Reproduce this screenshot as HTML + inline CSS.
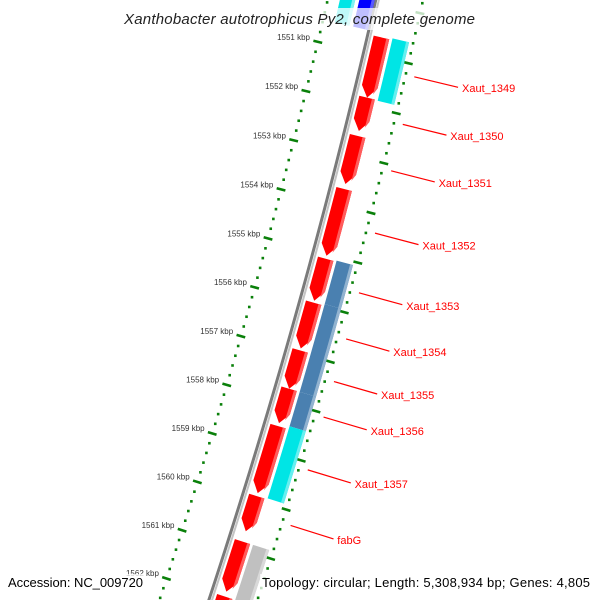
<!DOCTYPE html>
<html><head><meta charset="utf-8"><style>
html,body{margin:0;padding:0;background:#fff;width:600px;height:600px;overflow:hidden;}
svg{display:block;font-family:"Liberation Sans",sans-serif;overflow:hidden;}
</style></head><body>
<svg id="map" width="600" height="600" viewBox="0 0 600 600" xmlns="http://www.w3.org/2000/svg">
<rect width="600" height="600" fill="#fff"/>
<g id="rings"></g>
<g id="feats"></g>
<g id="labels"></g>
<rect x="120" y="8" width="360" height="22" fill="#fff" fill-opacity="0.75"/>
<text x="124" y="24" font-size="15" font-style="italic" fill="#222" textLength="351">Xanthobacter autotrophicus Py2, complete genome</text>
<rect x="6" y="574" width="140" height="19" fill="#fff" fill-opacity="0.75"/>
<rect x="260" y="574" width="332" height="19" fill="#fff" fill-opacity="0.75"/>
<text x="8" y="587" font-size="13" fill="#000" textLength="135">Accession: NC_009720</text>
<text x="262" y="587" font-size="13" fill="#000" textLength="328">Topology: circular; Length: 5,308,934 bp; Genes: 4,805</text>
</svg>
<script>
// data (kbp)
const fwdStarts = [1550.63,1551.84,1552.61,1553.68,1555.09,1555.98,1556.95,1557.73,1558.49,1559.92,1560.85,1561.98];
const fwdEnds   = [1551.84,1552.51,1553.58,1555.03,1555.94,1556.91,1557.73,1558.43,1559.86,1560.64,1561.88,1563.00];
const outerStarts = [1550.60,1555.07,1555.95,1557.73,1558.43,1560.85];
const outerEnds   = [1551.85,1555.95,1557.73,1558.43,1559.90,1562.00];
const outerColors = ['#00e5e5','#4a80b0','#4a80b0','#4a80b0','#00e5e5','#c0c0c0'];
const revStarts = [1549.90];
const revEnds = [1550.55];
const labelNames = ['Xaut_1349','Xaut_1350','Xaut_1351','Xaut_1352','Xaut_1353','Xaut_1354','Xaut_1355','Xaut_1356','Xaut_1357','fabG'];
const labelPos = [1551.23,1552.18,1553.11,1554.36,1555.56,1556.49,1557.35,1558.07,1559.14,1560.27];
const tickKbp = [1550,1551,1552,1553,1554,1555,1556,1557,1558,1559,1560,1561,1562,1563];

const NS='http://www.w3.org/2000/svg';
const CX=-6093, CY=-1476;
function ang(k){return (13.32+(k-1551)*0.441)*Math.PI/180;}
function P(k,r){const t=ang(k);return [CX+r*Math.cos(t),CY+r*Math.sin(t)];}
function mk(tag,attrs,parent){const e=document.createElementNS(NS,tag);for(const a in attrs)e.setAttribute(a,attrs[a]);parent.appendChild(e);return e;}
function arcPts(k0,k1,r,n){const p=[];for(let i=0;i<=n;i++){p.push(P(k0+(k1-k0)*i/n,r));}return p;}
function ptsStr(p){return p.map(q=>q[0].toFixed(2)+','+q[1].toFixed(2)).join(' ');}

const rings=document.getElementById('rings');
const bb1=mk('polyline',{points:ptsStr(arcPts(1549.3,1563.2,6635,60)),fill:'none',stroke:'#7a7a7a','stroke-width':3},rings);


const bb2=mk('polyline',{points:ptsStr(arcPts(1549.3,1563.2,6638,60)),fill:'none',stroke:'#c4c4c4','stroke-width':2},rings);



[[6588,'inner'],[6681,'outer']].forEach(([r,nm])=>{
  for(let k=1549.0;k<=1563.2;k+=0.2){
    const kk=Math.round(k*10)/10;
    const isMajor=Math.abs(kk-Math.round(kk))<1e-6;
    if(isMajor) continue;
    const p=P(kk,r);
    const d=mk('rect',{x:p[0]-1.2,y:p[1]-1.2,width:2.6,height:2.6,fill:'#0a800a'},rings);
    
    
  }
  tickKbp.forEach(k=>{
    const a=P(k,r-4.5),b=P(k,r+4.5);
    const t=mk('line',{x1:a[0],y1:a[1],x2:b[0],y2:b[1],stroke:'#0a800a','stroke-width':2.6},rings);
    
    
  });
});
tickKbp.forEach(k=>{
  const p=P(k,6580);
  const t=mk('text',{x:p[0].toFixed(1),y:(p[1]).toFixed(1),'font-size':8,'text-anchor':'end',fill:'#333'},rings);
  t.textContent=k+' kbp';
  
  
});

const feats=document.getElementById('feats');
function arrow(k0,k1,r0,r1,color,light,name){
  const tip=Math.min(0.22,(k1-k0)*0.4);
  const kb=k1-tip;
  const outer=arcPts(k0,kb,r1,10), inner=arcPts(kb,k0,r0,10);
  const pts=[...outer,P(k1,(r0+r1)/2),...inner];
  const g=mk('polygon',{points:ptsStr(pts),fill:color},feats);
  
  
  const hl=[...arcPts(k0,kb,r1,10),P(k1-tip*0.4,r1-3),...arcPts(kb,k0,r1-3,10)];
  const h=mk('polygon',{points:ptsStr(hl),fill:light},feats);
  
  
}
function box(k0,k1,r0,r1,color,light,name){
  const pts=[...arcPts(k0,k1,r1,10),...arcPts(k1,k0,r0,10)];
  const g=mk('polygon',{points:ptsStr(pts),fill:color},feats);
  
  
  const hl=[...arcPts(k0,k1,r1,10),...arcPts(k1,k0,r1-3,10)];
  const h=mk('polygon',{points:ptsStr(hl),fill:light},feats);
  
  
}
function lighten(c){const n=parseInt(c.slice(1),16);let r=n>>16,g=(n>>8)&255,b=n&255;r=Math.round(r+(255-r)*0.4);g=Math.round(g+(255-g)*0.4);b=Math.round(b+(255-b)*0.4);return 'rgb('+r+','+g+','+b+')';}
for(let i=0;i<fwdStarts.length;i++) arrow(fwdStarts[i],fwdEnds[i],6641,6657,'#ff0000','#ff5c5c','forward-gene');
for(let i=0;i<outerStarts.length;i++) box(outerStarts[i],outerEnds[i],6660,6677,outerColors[i],lighten(outerColors[i]),'outer-track-feature');
for(let i=0;i<revStarts.length;i++){
  box(revStarts[i],revEnds[i],6619,6634,'#0000ff','#5a5aff','reverse-gene');
  box(revStarts[i],revEnds[i],6600,6615,'#00e5e5','#80f2f2','inner-track-feature');
}

const labels=document.getElementById('labels');
for(let i=0;i<labelNames.length;i++){
  const a=P(labelPos[i],6690),b=P(labelPos[i],6735),c=P(labelPos[i],6739);
  const l=mk('line',{x1:a[0],y1:a[1],x2:b[0],y2:b[1],stroke:'#ff0000','stroke-width':1.2},labels);
  
  
  const t=mk('text',{x:c[0].toFixed(1),y:(c[1]+4).toFixed(1),'font-size':11,fill:'#ff0000'},labels);
  t.textContent=labelNames[i];
  
  
}
</script>
</body></html>
